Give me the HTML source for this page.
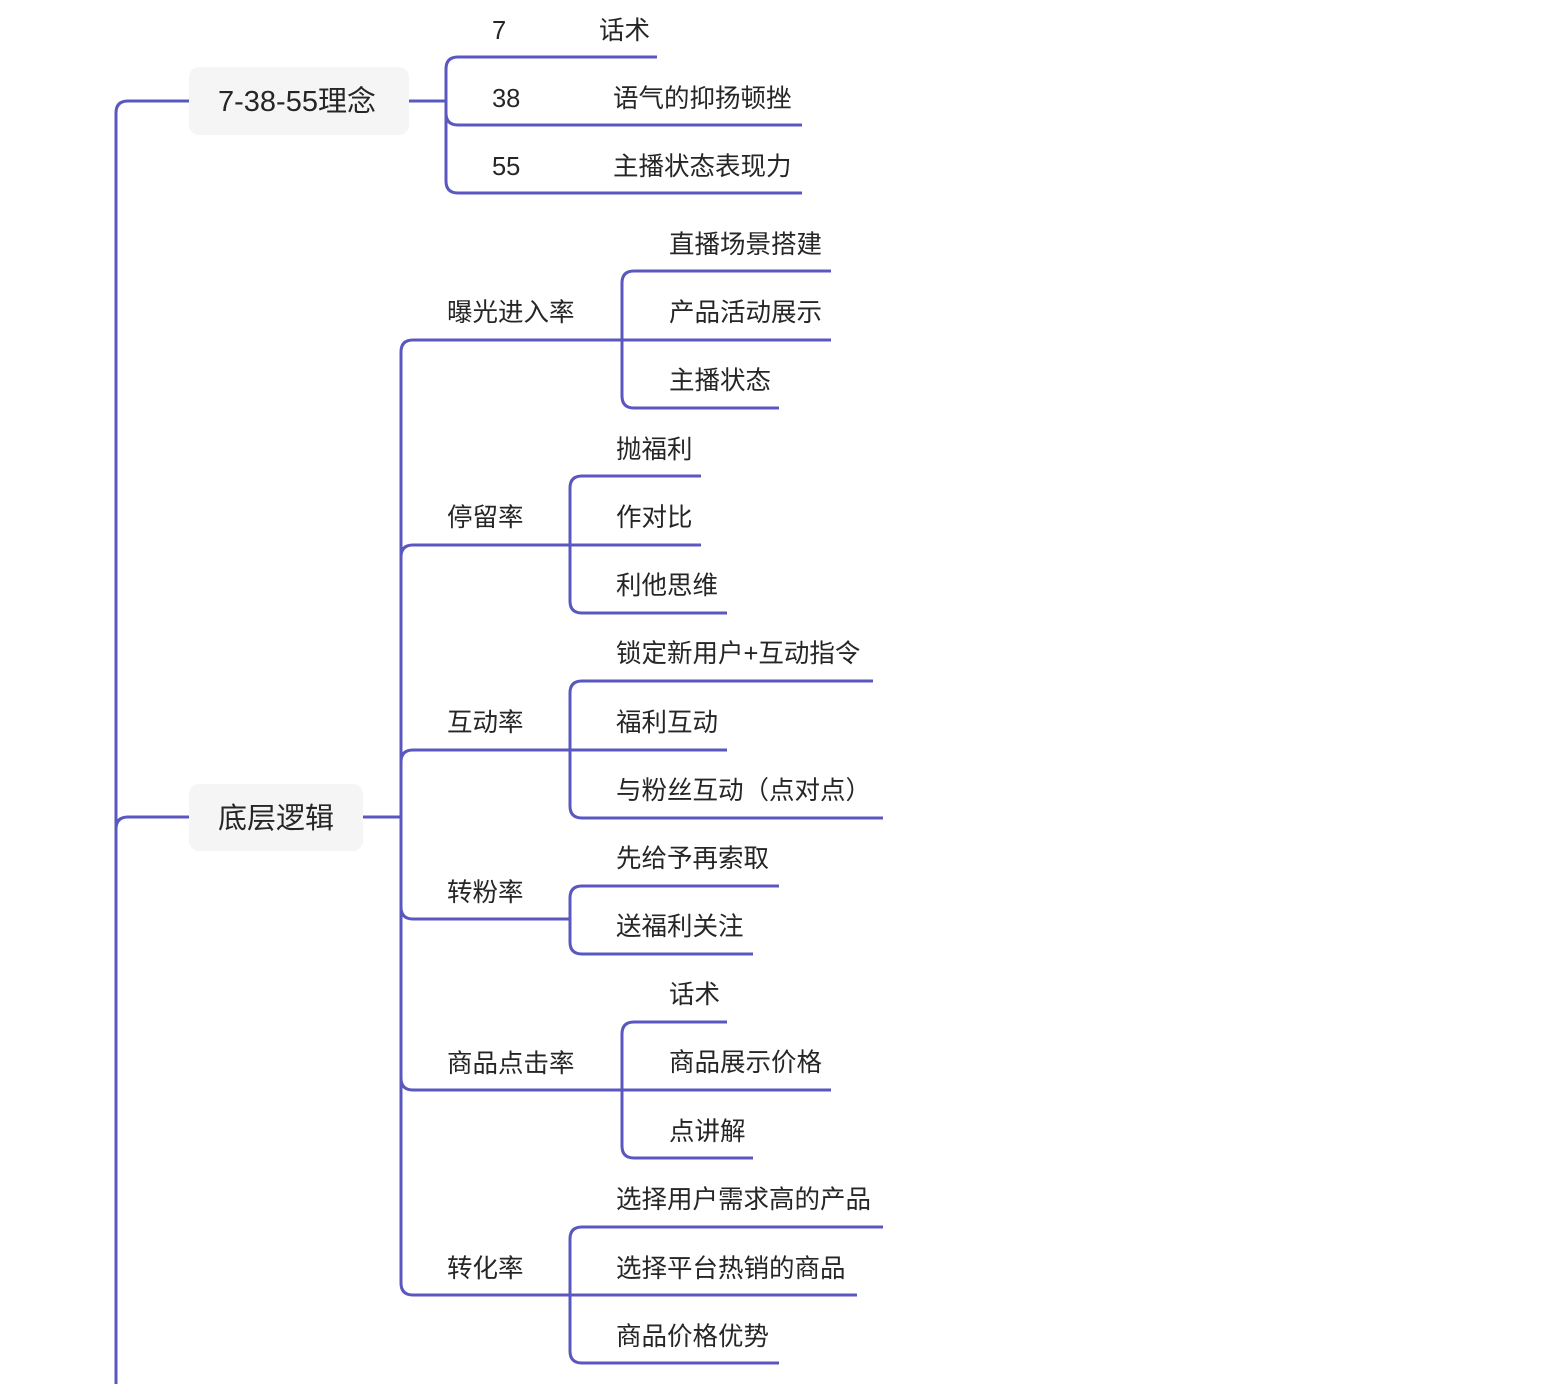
<!DOCTYPE html>
<html><head><meta charset="utf-8"><style>
html,body{margin:0;padding:0;background:#fff;}
svg{display:block;}
text{font-family:"Liberation Sans","Noto Sans CJK SC",sans-serif;font-size:25.5px;fill:#262626;}
</style></head><body>
<svg width="1558" height="1384" viewBox="0 0 1558 1384" xmlns="http://www.w3.org/2000/svg">
<g fill="none" stroke="#5b57c0" stroke-width="3">
<path d="M189 101 L128 101 Q116 101 116 113 L116 1384"/>
<path d="M189 817 L128 817 Q116 817 116 829"/>
<path d="M409 101 L446 101"/>
<path d="M446 101 L446 69 Q446 57 458 57 L657 57"/>
<path d="M446 101 L446 113 Q446 125 458 125 L802 125"/>
<path d="M446 101 L446 181 Q446 193 458 193 L802 193"/>
<path d="M363 817 L401 817"/>
<path d="M401 817 L401 352 Q401 340 413 340 L622 340"/>
<path d="M401 817 L401 557 Q401 545 413 545 L570 545"/>
<path d="M401 817 L401 762 Q401 750 413 750 L570 750"/>
<path d="M401 817 L401 907 Q401 919 413 919 L570 919"/>
<path d="M401 817 L401 1078 Q401 1090 413 1090 L622 1090"/>
<path d="M401 817 L401 1283 Q401 1295 413 1295 L570 1295"/>
<path d="M622 340 L622 283 Q622 271 634 271 L831 271"/>
<path d="M622 340 L831 340"/>
<path d="M622 340 L622 396 Q622 408 634 408 L779 408"/>
<path d="M570 545 L570 488 Q570 476 582 476 L701 476"/>
<path d="M570 545 L701 545"/>
<path d="M570 545 L570 601 Q570 613 582 613 L727 613"/>
<path d="M570 750 L570 693 Q570 681 582 681 L873 681"/>
<path d="M570 750 L727 750"/>
<path d="M570 750 L570 806 Q570 818 582 818 L883 818"/>
<path d="M570 919 L570 898 Q570 886 582 886 L779 886"/>
<path d="M570 919 L570 942 Q570 954 582 954 L753 954"/>
<path d="M622 1090 L622 1034 Q622 1022 634 1022 L727 1022"/>
<path d="M622 1090 L831 1090"/>
<path d="M622 1090 L622 1146 Q622 1158 634 1158 L753 1158"/>
<path d="M570 1295 L570 1239 Q570 1227 582 1227 L883 1227"/>
<path d="M570 1295 L857 1295"/>
<path d="M570 1295 L570 1351 Q570 1363 582 1363 L779 1363"/>
</g>
<rect x="189" y="67" width="220" height="68" rx="10" fill="#f5f5f5"/>
<rect x="189" y="784" width="174" height="67" rx="10" fill="#f5f5f5"/>
<text x="218" y="111" style="font-size:29px">7-38-55理念</text>
<text x="218" y="828" style="font-size:29px">底层逻辑</text>
<text x="492" y="39">7</text><text x="599" y="39">话术</text>
<text x="492" y="107">38</text><text x="613" y="107">语气的抑扬顿挫</text>
<text x="492" y="175">55</text><text x="613" y="175">主播状态表现力</text>
<text x="447" y="321">曝光进入率</text>
<text x="447" y="526">停留率</text>
<text x="447" y="731">互动率</text>
<text x="447" y="901">转粉率</text>
<text x="447" y="1072">商品点击率</text>
<text x="447" y="1277">转化率</text>
<text x="669" y="253">直播场景搭建</text>
<text x="669" y="321">产品活动展示</text>
<text x="669" y="389">主播状态</text>
<text x="616" y="458">抛福利</text>
<text x="616" y="526">作对比</text>
<text x="616" y="594">利他思维</text>
<text x="616" y="662">锁定新用户+互动指令</text>
<text x="616" y="731">福利互动</text>
<text x="616" y="799">与粉丝互动（点对点）</text>
<text x="616" y="867">先给予再索取</text>
<text x="616" y="935">送福利关注</text>
<text x="669" y="1003">话术</text>
<text x="669" y="1071">商品展示价格</text>
<text x="669" y="1140">点讲解</text>
<text x="616" y="1208">选择用户需求高的产品</text>
<text x="616" y="1277">选择平台热销的商品</text>
<text x="616" y="1345">商品价格优势</text>
</svg>
</body></html>
